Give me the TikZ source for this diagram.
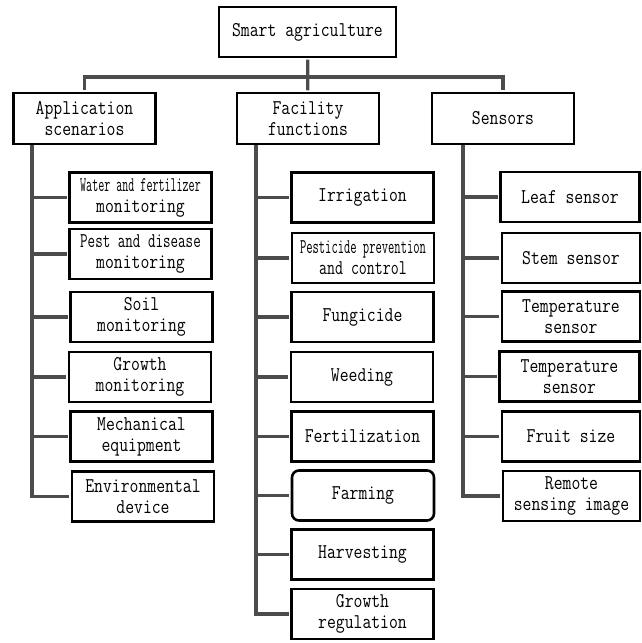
\documentclass[tikz,border=0pt]{standalone}
\usepackage{fontspec}
\setmonofont{Latin Modern Mono}[FakeStretch=0.82]
\usepackage{graphicx}
\usetikzlibrary{calc}
\newcommand{\squeeze}[2]{\scalebox{#1}[1]{#2}}

\begin{document}
\begin{tikzpicture}[
  x=1pt, y=-1pt,
  box/.style = {draw, line width=2.6pt, minimum height=50pt, inner sep=0pt, align=center,
    font=\ttfamily\fontsize{21}{21}\selectfont},
  rootbox/.style = {box, minimum width=177pt},
  headbox/.style = {box, minimum width=142pt, minimum height=51pt},
  leafbox/.style = {box, minimum width=142pt},
  link/.style = {draw=black!70, line width=3.3pt, shorten <=1.3pt, shorten >=1.3pt}
  ]
  \useasboundingbox (0,0) rectangle (642,643);

	\node[rootbox] (smart) at (307.5,32) {Smart agriculture};

	\node[headbox] (app) at (84.5,118.5) {Application\\scenarios};
	\node[headbox] (fac) at (308,118.5) {Facility\\functions};
	\node[headbox] (sen) at (503,118.5) {Sensors};

	\coordinate (bar) at (308,77);
	\coordinate (appT) at (32,144);
	\coordinate (facT) at (256,144);
	\coordinate (senT) at (463,144);

	% application scenarios
	\node[leafbox] (water) at (140.5,197.5) {\squeeze{0.68}{Water and fertilizer}\\monitoring};
	\node[leafbox] (pest) at (140.5,254) {\squeeze{0.85}{Pest and disease}\\monitoring};
	\node[leafbox] (soil) at (141.5,317) {Soil\\monitoring};
	\node[leafbox] (growth) at (140,377) {Growth\\monitoring};
	\node[leafbox] (mech) at (141.5,436.5) {Mechanical\\equipment};
	\node[leafbox] (env) at (143,496.5) {Environmental\\device};

	% facility functions
	\node[leafbox] (irrig) at (362.5,197.5) {Irrigation};
	\node[leafbox] (pestctl) at (363,258) {\squeeze{0.71}{Pesticide prevention}\\\squeeze{0.9}{and control}};
	\node[leafbox] (fungi) at (362.5,317) {Fungicide};
	\node[leafbox] (weed) at (362,377) {Weeding};
	\node[leafbox] (fert) at (362.5,436.5) {Fertilization};
	\node[leafbox, rounded corners=7pt] (farm) at (363,495.5) {Farming};
	\node[leafbox] (harv) at (362.5,554.5) {Harvesting};
	\node[leafbox] (greg) at (362.5,614) {Growth\\regulation};

	% sensors
	\node[leafbox, minimum width=139pt] (leaf) at (570,197) {Leaf sensor};
	\node[leafbox, minimum width=138pt] (stem) at (571,258) {Stem sensor};
	\node[leafbox, minimum width=138pt] (temp) at (571,316.5) {Temperature\\sensor};
	\node[leafbox, minimum width=140pt] (tempb) at (569.5,376.5) {Temperature\\sensor};
	\node[leafbox, minimum width=138pt] (fruit) at (571,436.5) {Fruit size};
	\node[leafbox, minimum width=137pt] (remote) at (571.5,496) {Remote\\sensing image};

	\draw[link] (smart) -- (fac);
	\draw[link] (app) |- (bar) -| (sen);

	\draw[link] (appT) |- (env.west);
	\foreach \n in {water,pest,soil,growth,mech}
		\draw[link] (appT |- \n.west) -- (\n.west);

	\draw[link] (facT) |- (greg.west);
	\foreach \n in {irrig,pestctl,fungi,weed,fert,farm,harv}
		\draw[link] (facT |- \n.west) -- (\n.west);

	\draw[link] (senT) |- (remote.west);
	\foreach \n in {leaf,stem,temp,tempb,fruit}
		\draw[link] (senT |- \n.west) -- (\n.west);

\end{tikzpicture}
\end{document}
